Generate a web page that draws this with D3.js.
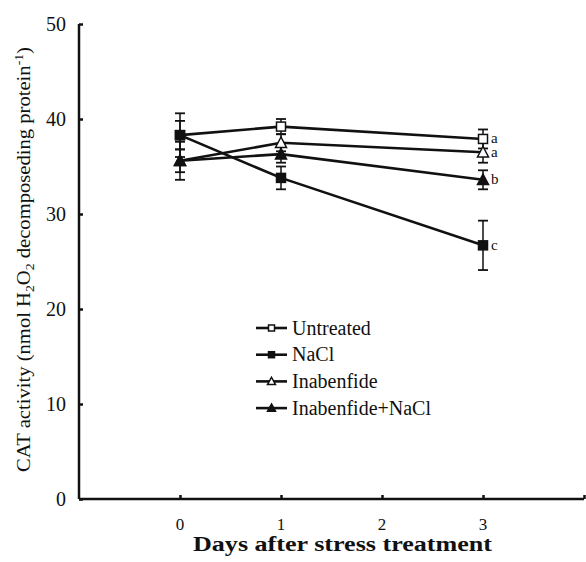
<!DOCTYPE html>
<html>
<head>
<meta charset="utf-8">
<script src="https://cdn.jsdelivr.net/npm/d3@7"></script>
<style>
  body { margin: 0; background: #fff; }
  text { font-family: "Liberation Serif", "Times New Roman", serif; fill: #111; }
</style>
</head>
<body>
<div id="chart"></div>
<script>
const days = [0, 1, 3];
const seriesNames = ["Untreated", "NaCl", "Inabenfide", "Inabenfide+NaCl"];
const untreated = [38.3, 39.2, 37.9];
const untreatedErr = [1.5, 0.8, 1.0];
const nacl = [38.3, 33.8, 26.7];
const naclErr = [2.3, 1.2, 2.6];
const inabenfide = [35.6, 37.5, 36.5];
const inabenfideErr = [1.2, 0.9, 1.1];
const inabNacl = [35.6, 36.3, 33.6];
const inabNaclErr = [2.0, 0.9, 1.0];
const letters = ["a", "c", "a", "b"];
const yTicks = [0, 10, 20, 30, 40, 50];
const xTicks = [0, 1, 2, 3];

const series = [
  { name: seriesNames[0], values: untreated, err: untreatedErr, shape: "square", filled: false, letter: letters[0] },
  { name: seriesNames[1], values: nacl, err: naclErr, shape: "square", filled: true, letter: letters[1] },
  { name: seriesNames[2], values: inabenfide, err: inabenfideErr, shape: "triangle", filled: false, letter: letters[2] },
  { name: seriesNames[3], values: inabNacl, err: inabNaclErr, shape: "triangle", filled: true, letter: letters[3] },
];

const width = 586;
const height = 562;
const ink = "#111";

const x = d3.scaleLinear().domain([-1, 4]).range([79, 584]);
const y = d3.scaleLinear().domain([0, 50]).range([499, 24]);

const svg = d3.select("#chart").append("svg")
  .attr("width", width)
  .attr("height", height);

// Axes
const yAxis = svg.append("g")
  .attr("transform", `translate(${x(-1)},0)`)
  .call(d3.axisRight(y).tickValues(yTicks).tickSize(4).tickFormat(""));
yAxis.select(".domain").attr("stroke", ink).attr("stroke-width", 2.5)
  .attr("d", `M0,${y(50)}V${y(0)}`);
yAxis.selectAll(".tick line").attr("stroke", ink).attr("stroke-width", 2.5);

svg.selectAll(".ylab").data(yTicks).enter().append("text")
  .attr("x", 66)
  .attr("y", d => y(d))
  .attr("dy", "0.33em")
  .attr("text-anchor", "end")
  .attr("font-size", 20)
  .text(d => d);

const xAxis = svg.append("g")
  .attr("transform", `translate(0,${y(0)})`)
  .call(d3.axisTop(x).tickValues(xTicks.concat([4])).tickSize(4).tickFormat(""));
xAxis.select(".domain").attr("stroke", ink).attr("stroke-width", 2.5)
  .attr("d", `M${x(-1)},0H${x(4)}`);
xAxis.selectAll(".tick line").attr("stroke", ink).attr("stroke-width", 2.5);

svg.selectAll(".xlab").data(xTicks).enter().append("text")
  .attr("x", d => x(d))
  .attr("y", 530)
  .attr("text-anchor", "middle")
  .attr("font-size", 17)
  .text(d => d);

svg.append("text")
  .attr("x", 193)
  .attr("y", 551)
  .attr("font-size", 20)
  .attr("font-weight", "bold")
  .attr("textLength", 299)
  .attr("lengthAdjust", "spacingAndGlyphs")
  .text("Days after stress treatment");

const ylabel = svg.append("text")
  .attr("transform", "translate(30,472) rotate(-90)")
  .attr("font-size", 18)
  .attr("textLength", 425)
  .attr("lengthAdjust", "spacingAndGlyphs");
ylabel.append("tspan").text("CAT activity (nmol H");
ylabel.append("tspan").attr("font-size", 12).attr("dy", 4).text("2");
ylabel.append("tspan").attr("dy", -4).text("O");
ylabel.append("tspan").attr("font-size", 12).attr("dy", 4).text("2");
ylabel.append("tspan").attr("dy", -4).text(" decomposeding protein");
ylabel.append("tspan").attr("font-size", 12).attr("dy", -7).text("-1");
ylabel.append("tspan").attr("dy", 7).text(")");

// Markers
function drawMarker(g, s, cx, cy, size) {
  if (s.shape === "square") {
    g.append("rect")
      .attr("x", cx - size / 2).attr("y", cy - size / 2)
      .attr("width", size).attr("height", size)
      .attr("fill", s.filled ? ink : "#fff")
      .attr("stroke", ink).attr("stroke-width", 1.5);
  } else {
    const h = size * 1.05;
    g.append("path")
      .attr("d", `M${cx},${cy - h / 2 - 1}L${cx + size / 2 + 1},${cy + h / 2}L${cx - size / 2 - 1},${cy + h / 2}Z`)
      .attr("fill", s.filled ? ink : "#fff")
      .attr("stroke", ink).attr("stroke-width", 1.5);
  }
}

const line = d3.line().x((d, i) => x(days[i])).y(d => y(d));

// Error bars
series.forEach(s => {
  const g = svg.append("g");
  s.values.forEach((v, i) => {
    const cx = x(days[i]);
    g.append("line")
      .attr("x1", cx).attr("x2", cx)
      .attr("y1", y(v + s.err[i])).attr("y2", y(v - s.err[i]))
      .attr("stroke", ink).attr("stroke-width", 1.5);
    [v + s.err[i], v - s.err[i]].forEach(e => {
      g.append("line")
        .attr("x1", cx - 5).attr("x2", cx + 5)
        .attr("y1", y(e)).attr("y2", y(e))
        .attr("stroke", ink).attr("stroke-width", 1.8);
    });
  });
});

// Lines
series.forEach(s => {
  svg.append("path")
    .datum(s.values)
    .attr("d", line)
    .attr("fill", "none")
    .attr("stroke", ink)
    .attr("stroke-width", 2.6);
});

// Points and letters
series.forEach(s => {
  const g = svg.append("g");
  s.values.forEach((v, i) => drawMarker(g, s, x(days[i]), y(v), 9));
  svg.append("text")
    .attr("x", x(3) + 8)
    .attr("y", y(s.values[2]))
    .attr("dy", "0.3em")
    .attr("font-size", 15)
    .text(s.letter);
});

// Legend
const legend = svg.append("g");
series.forEach((s, i) => {
  const ly = 328 + i * 26.7;
  legend.append("line")
    .attr("x1", 256).attr("x2", 287)
    .attr("y1", ly).attr("y2", ly)
    .attr("stroke", ink).attr("stroke-width", 2.6);
  drawMarker(legend, s, 271.5, ly, 6);
  legend.append("text")
    .attr("x", 292)
    .attr("y", ly)
    .attr("dy", "0.33em")
    .attr("font-size", 20)
    .text(s.name);
});
</script>
</body>
</html>
